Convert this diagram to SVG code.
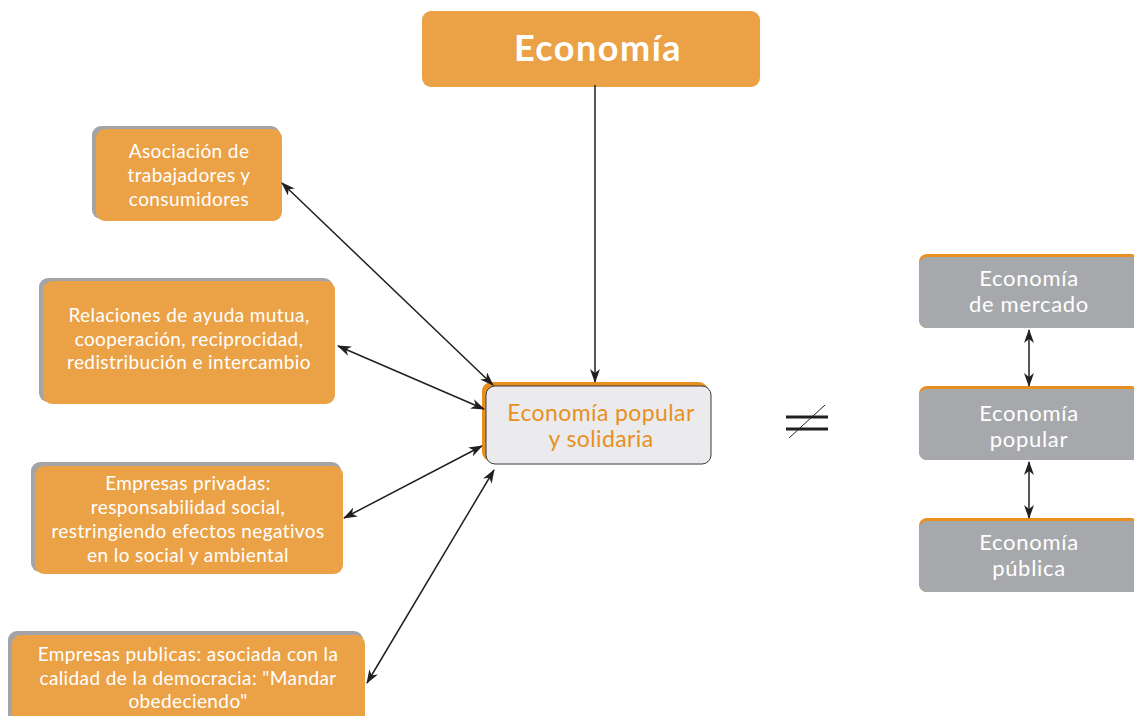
<svg xmlns="http://www.w3.org/2000/svg" width="1134" height="716" viewBox="0 0 1134 716">
<defs>
<style>
.sh{fill:#A3A4A7}
.or{fill:#EBA247}
.t{font-family:Lato,"Open Sans","Liberation Sans",sans-serif;fill:#fff;text-anchor:middle}
.s18{font-size:19px;letter-spacing:0.4px}
.s20{font-size:22px;letter-spacing:0.7px}
.ln{stroke:#231F20;stroke-width:1.5;fill:none}
.gr{fill:#A7A8AB}
.ot{fill:#E8901F}
</style>
<marker id="ae" viewBox="0 0 14 10" refX="13" refY="5" markerWidth="14" markerHeight="10" markerUnits="userSpaceOnUse" orient="auto">
<path d="M0,0 L14,5 L0,10 L4,5 z" fill="#231F20"/>
</marker>
<marker id="as" viewBox="0 0 14 10" refX="1" refY="5" markerWidth="14" markerHeight="10" markerUnits="userSpaceOnUse" orient="auto">
<path d="M14,0 L0,5 L14,10 L10,5 z" fill="#231F20"/>
</marker>
</defs>
<rect width="1134" height="716" fill="#fff"/>

<g id="economia">
<rect x="422" y="11" width="338" height="76" rx="9" class="or"/>
<text x="598" y="61" class="t" style="font-size:36px;font-weight:700;letter-spacing:1.5px">Economía</text>
</g>

<g id="asociacion">
<rect x="92" y="126" width="188" height="93" rx="9" class="sh"/>
<rect x="96" y="129" width="186" height="92" rx="9" class="or"/>
<text class="t s18"><tspan x="189" y="158">Asociación de</tspan><tspan x="189" y="182">trabajadores y</tspan><tspan x="189" y="206">consumidores</tspan></text>
</g>

<g id="relaciones">
<rect x="39" y="278" width="294" height="124" rx="9" class="sh"/>
<rect x="43" y="281" width="292" height="123" rx="9" class="or"/>
<text class="t s18"><tspan x="189" y="322">Relaciones de ayuda mutua,</tspan><tspan x="189" y="346">cooperación, reciprocidad,</tspan><tspan x="189" y="369">redistribución e intercambio</tspan></text>
</g>

<g id="privadas">
<rect x="31" y="462" width="310" height="110" rx="9" class="sh"/>
<rect x="35" y="466" width="308" height="108" rx="9" class="or"/>
<text class="t s18"><tspan x="188" y="490">Empresas privadas:</tspan><tspan x="188" y="514">responsabilidad social,</tspan><tspan x="188" y="538">restringiendo efectos negativos</tspan><tspan x="188" y="562">en lo social y ambiental</tspan></text>
</g>

<g id="publicas">
<rect x="8" y="631" width="355" height="95" rx="9" class="sh"/>
<rect x="12" y="635" width="353" height="95" rx="9" class="or"/>
<text class="t s18"><tspan x="188" y="661">Empresas publicas: asociada con la</tspan><tspan x="188" y="685">calidad de la democracia: "Mandar</tspan><tspan x="188" y="708">obedeciendo"</tspan></text>
</g>

<g id="eps">
<rect x="482" y="382" width="226" height="79" rx="9" fill="#E8901F"/>
<rect x="486" y="386" width="225" height="78" rx="9" fill="#EBEBED" stroke="#3A3A3C" stroke-width="1"/>
<text class="t" style="font-size:23px;letter-spacing:0.4px;fill:#E8901F"><tspan x="601" y="421">Economía popular</tspan><tspan x="601" y="447">y solidaria</tspan></text>
</g>

<g id="neq">
<line x1="786" y1="417" x2="828" y2="417" stroke="#231F20" stroke-width="3"/>
<line x1="786" y1="429" x2="828" y2="429" stroke="#231F20" stroke-width="3"/>
<line x1="789" y1="438" x2="825" y2="405" stroke="#231F20" stroke-width="1"/>
</g>

<g id="mercado">
<rect x="919" y="254" width="220" height="74" rx="8" class="ot"/>
<rect x="919" y="257" width="220" height="71" rx="8" class="gr"/>
<text class="t s20"><tspan x="1029" y="286">Economía</tspan><tspan x="1029" y="312">de mercado</tspan></text>
</g>

<g id="popular">
<rect x="919" y="386" width="220" height="74" rx="8" class="ot"/>
<rect x="919" y="389" width="220" height="71" rx="8" class="gr"/>
<text class="t s20"><tspan x="1029" y="421">Economía</tspan><tspan x="1029" y="447">popular</tspan></text>
</g>

<g id="publica">
<rect x="919" y="518" width="220" height="74" rx="8" class="ot"/>
<rect x="919" y="521" width="220" height="71" rx="8" class="gr"/>
<text class="t s20"><tspan x="1029" y="550">Economía</tspan><tspan x="1029" y="576">pública</tspan></text>
</g>

<g id="connectors">
<line class="ln" x1="595" y1="85" x2="595" y2="382" marker-end="url(#ae)"/>
<line class="ln" x1="282" y1="183" x2="493" y2="385" marker-start="url(#as)" marker-end="url(#ae)"/>
<line class="ln" x1="338" y1="346" x2="484" y2="409" marker-start="url(#as)" marker-end="url(#ae)"/>
<line class="ln" x1="344" y1="518" x2="482" y2="446" marker-start="url(#as)" marker-end="url(#ae)"/>
<line class="ln" x1="367" y1="683" x2="494" y2="470" marker-start="url(#as)" marker-end="url(#ae)"/>
<line class="ln" x1="1029" y1="330" x2="1029" y2="386" marker-start="url(#as)" marker-end="url(#ae)"/>
<line class="ln" x1="1029" y1="462" x2="1029" y2="518" marker-start="url(#as)" marker-end="url(#ae)"/>
</g>
</svg>
